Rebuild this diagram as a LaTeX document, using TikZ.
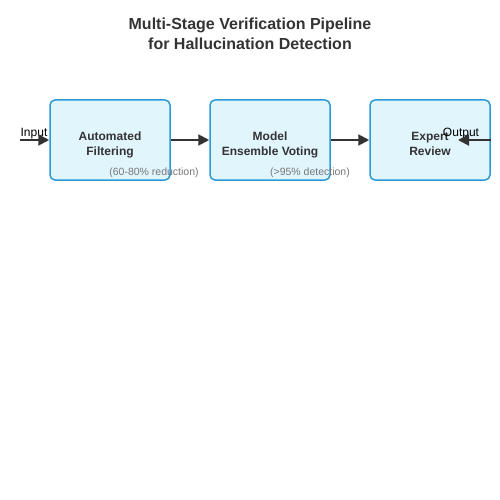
\documentclass[tikz,border=0pt]{standalone}
\usepackage{fontspec}
\setmainfont{Liberation Sans}
\usetikzlibrary{arrows.meta, positioning}

\definecolor{stageblue}{HTML}{2B9AD6}
\definecolor{stagefill}{HTML}{E1F5FD}
\definecolor{arrowgray}{HTML}{333333}
\definecolor{notegray}{HTML}{777777}

% two centred lines, set a little below the box centre
\newcommand\stagetext[1]{\raisebox{-5pt}[\height][\depth]{\begin{tabular}{@{}c@{}}#1\end{tabular}}}

\begin{document}
\begin{tikzpicture}[
    x=1pt, y=-1pt,
    every node/.style = {font=\fontsize{12}{14}\selectfont},
    stage/.style = {rectangle, draw=stageblue, fill=stagefill, line width=1.5pt,
                    rounded corners=5pt, minimum width=120pt, minimum height=80pt,
                    text=arrowgray, font=\fontsize{12}{15}\selectfont\bfseries},
    note/.style  = {text=notegray, font=\fontsize{10.5}{12}\selectfont},
    flow/.style  = {-{Triangle[length=11pt,width=11pt]}, line width=2pt, draw=arrowgray,
                    fill=arrowgray}
  ]
  \useasboundingbox (0,0) rectangle (500,500);

  % title
  \node[font=\fontsize{16}{20}\selectfont\bfseries, text=arrowgray, align=center]
       (title) at (250,34) {Multi-Stage Verification Pipeline\\for Hallucination Detection};

  % stages
  \node[stage] (filter)   at (110,140) {\stagetext{Automated\\Filtering}};
  \node[stage] (ensemble) at (270,140) {\stagetext{Model\\Ensemble Voting}};
  \node[stage] (review)   at (430,140) {\stagetext{Expert\\Review}};

  % notes
  \node[note] (filternote)   at (154,173) {(60-80\% reduction)};
  \node[note] (ensemblenote) at (310,173) {(>95\% detection)};

  % in / out
  \coordinate (inStart) at (20,140);
  \coordinate (outEnd) at (458,140);
  \node (inlabel)  at (34,134) {Input};
  \node (outlabel) at (461,134) {Output};

  % arrows
  \draw[flow] (inStart) -- (filter.west);
  \draw[flow] (filter) -- (ensemble);
  \draw[flow] (ensemble) -- (review);
  \draw[flow] (review.east) -- (outEnd);
\end{tikzpicture}
\end{document}
